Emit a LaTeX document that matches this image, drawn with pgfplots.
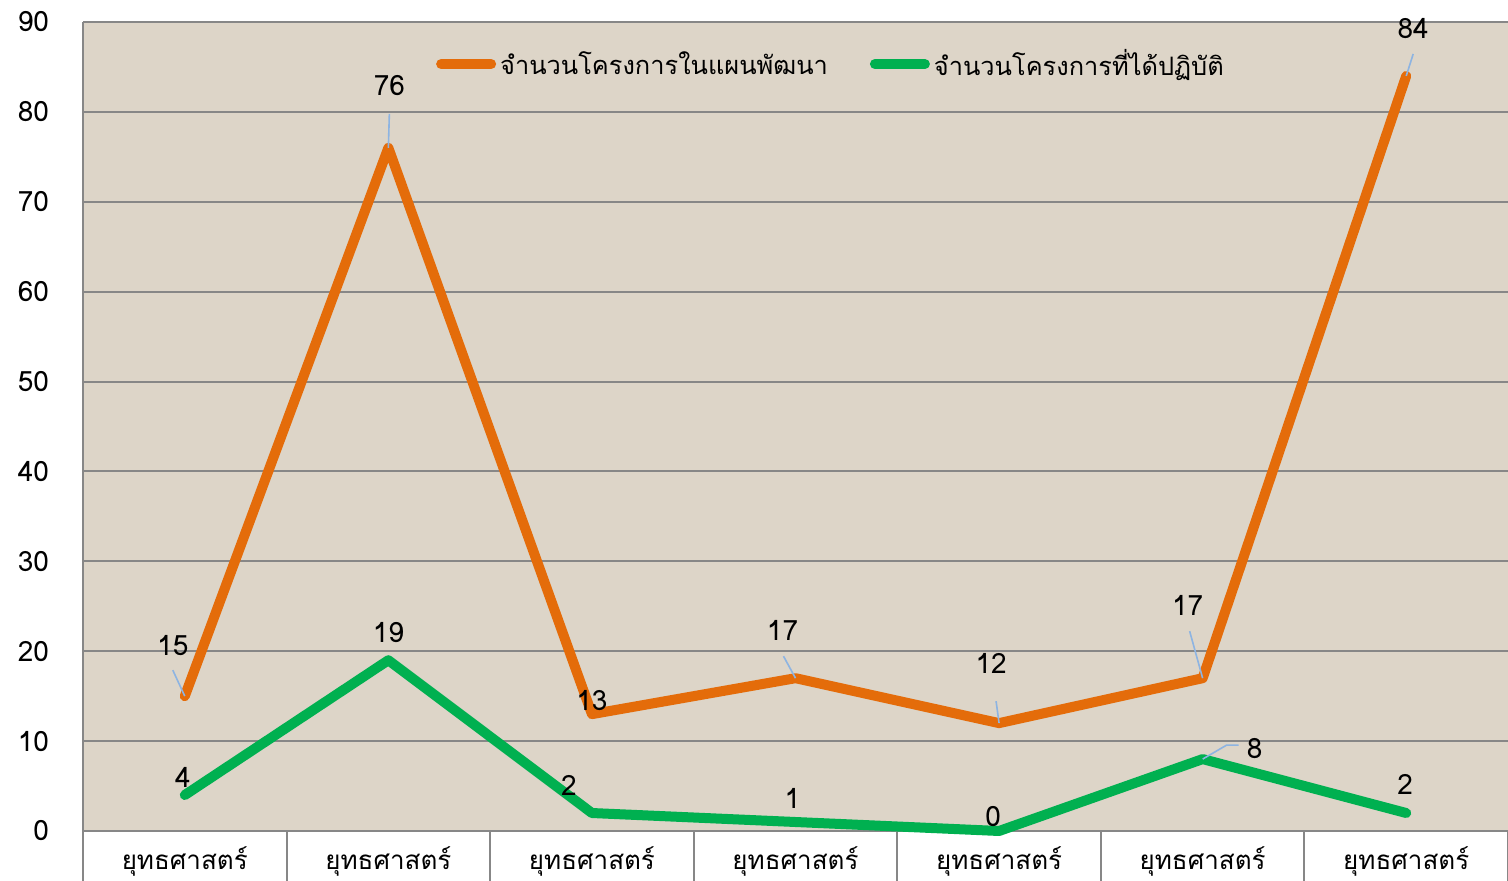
\documentclass[border=0pt]{standalone}
\usepackage{fontspec}
\setmainfont{Loma}[Script=Thai]
\usepackage{pgfplots}
\pgfplotsset{compat=1.18}
\definecolor{bgc}{RGB}{221,213,200}
\definecolor{orng}{RGB}{228,108,10}
\definecolor{grn}{RGB}{0,176,80}
\definecolor{gridc}{RGB}{135,135,135}
\definecolor{lead}{RGB}{141,180,226}
\begin{document}
\begin{tikzpicture}
\useasboundingbox (0,0) rectangle (754pt,440.5pt);
\begin{axis}[
  at={(41.5pt,25pt)}, anchor=south west,
  scale only axis, width=712.5pt, height=404.5pt,
  xmin=-0.5, xmax=6.5, ymin=0, ymax=90,
  ytick={0,10,...,90},
  xtick={0,...,6},
  xticklabels={ยุทธศาสตร์,ยุทธศาสตร์,ยุทธศาสตร์,ยุทธศาสตร์,ยุทธศาสตร์,ยุทธศาสตร์,ยุทธศาสตร์},
  axis background/.style={fill=bgc},
  ymajorgrids, grid style={gridc, line width=1pt},
  axis x line=bottom, axis y line=left,
  axis line style={-, gridc, line width=1pt},
  major tick length=0pt,
  /pgf/number format/assume math mode=true,
  tick label style={font=\fontsize{14}{16}\selectfont, text=black},
  yticklabel style={xshift=-13.5pt},
  xticklabel style={yshift=-4.5pt, font=\fontsize{13}{15}\selectfont},
  extra x ticks={-0.5,0.5,1.5,2.5,3.5,4.5,5.5,6.5},
  extra x tick labels={},
  extra x tick style={major tick length=60pt, tick align=outside, tick style={gridc, line width=1pt}},
  legend style={at={(0.5256,0.948)}, anchor=center, draw=none, fill=none,
    font=\fontsize{12.7}{15}\selectfont, legend columns=2,
    /tikz/every even column/.append style={column sep=19pt}},
  legend image code/.code={\draw[#1, line width=5pt, line cap=round] (0pt,0pt) -- (25pt,0pt);},
  clip=false,
]
\addplot[orng, line width=5pt, line join=round, line cap=round] coordinates {(0,15) (1,76) (2,13) (3,17) (4,12) (5,17) (6,84)};
\addlegendentry{จำนวนโครงการในแผนพัฒนา}
\addplot[grn, line width=5pt, line join=round, line cap=round] coordinates {(0,4) (1,19) (2,2) (3,1) (4,0) (5,8) (6,2)};
\addlegendentry{จำนวนโครงการที่ได้ปฏิบัติ}
% leader lines
\draw[lead, line width=0.8pt] ([shift={(-6pt,13pt)}]axis cs:0,15) -- (axis cs:0,15);
\draw[lead, line width=0.8pt] ([shift={(0.5pt,17pt)}]axis cs:1,76) -- (axis cs:1,76);
\draw[lead, line width=0.8pt] ([shift={(-6pt,11pt)}]axis cs:3,17) -- (axis cs:3,17);
\draw[lead, line width=0.8pt] ([shift={(-1.5pt,11pt)}]axis cs:4,12) -- (axis cs:4,12);
\draw[lead, line width=0.8pt] ([shift={(-6.5pt,23.5pt)}]axis cs:5,17) -- (axis cs:5,17);
\draw[lead, line width=0.8pt] ([shift={(3.5pt,11pt)}]axis cs:6,84) -- (axis cs:6,84);
\draw[lead, line width=0.8pt] (axis cs:5,8) -- ([shift={(12pt,7pt)}]axis cs:5,8) -- ([shift={(18pt,7pt)}]axis cs:5,8);
% data labels
\begin{scope}[every node/.style={font=\fontsize{14}{16}\selectfont, inner sep=0pt}]
\node at ([shift={(-6pt,25.5pt)}]axis cs:0,15) {15};
\node at ([shift={(0.5pt,31pt)}]axis cs:1,76) {76};
\node at ([shift={(0pt,7pt)}]axis cs:2,13) {13};
\node at ([shift={(-6.5pt,24pt)}]axis cs:3,17) {17};
\node at ([shift={(-4pt,30pt)}]axis cs:4,12) {12};
\node at ([shift={(-7.5pt,36.5pt)}]axis cs:5,17) {17};
\node at ([shift={(3.5pt,23.5pt)}]axis cs:6,84) {84};
\node at ([shift={(-1pt,9pt)}]axis cs:0,4) {4};
\node at ([shift={(0pt,14pt)}]axis cs:1,19) {19};
\node at ([shift={(-11.5pt,14pt)}]axis cs:2,2) {2};
\node at ([shift={(-1.5pt,12pt)}]axis cs:3,1) {1};
\node at ([shift={(-3pt,7pt)}]axis cs:4,0) {0};
\node at ([shift={(26pt,5.5pt)}]axis cs:5,8) {8};
\node at ([shift={(-0.5pt,14.5pt)}]axis cs:6,2) {2};
\end{scope}
\end{axis}
\end{tikzpicture}
\end{document}
